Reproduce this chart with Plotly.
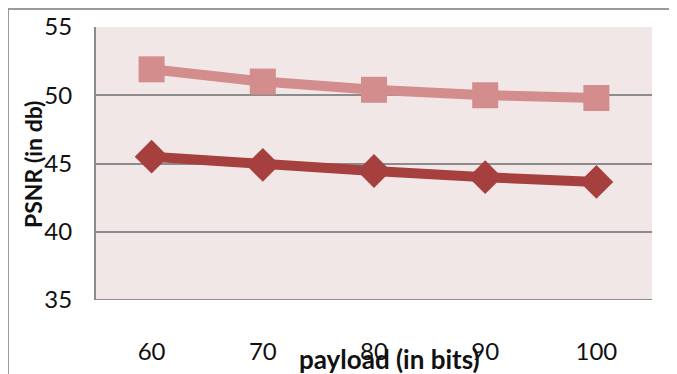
import plotly.graph_objects as go

categories = ["60", "70", "80", "90", "100"]
series_square = [51.9, 51.0, 50.4, 50.0, 49.8]
series_diamond = [45.5, 44.9, 44.45, 44.0, 43.65]
y_ticks = [35, 40, 45, 50, 55]

FONT = "Lato, Open Sans, sans-serif"

fig = go.Figure()
fig.add_trace(go.Scatter(
    x=categories, y=series_square, mode="lines+markers",
    line=dict(color="#D38D8D", width=10),
    marker=dict(symbol="square", size=26, color="#D38D8D"),
    showlegend=False))
fig.add_trace(go.Scatter(
    x=categories, y=series_diamond, mode="lines+markers",
    line=dict(color="#A5403F", width=10),
    marker=dict(symbol="diamond", size=26, color="#A5403F"),
    showlegend=False))

# page body has an 8px margin, so the figure is drawn 8px in from the corner
OFF = 8
W, H = 677 - OFF, 374 - OFF
L, T = 96 - OFF, 27 - OFF
pw, ph = 556, 273
R, B = W - L - pw, H - T - ph

fig.update_layout(
    width=W, height=H,
    margin=dict(l=L, r=R, t=T, b=B),
    paper_bgcolor="white",
    plot_bgcolor="#F2E7E7",
    font=dict(family=FONT, size=24, color="#111"),
    xaxis=dict(type="category", range=[-0.5, 4.5], showgrid=False,
               showline=False, ticks="outside", ticklen=30,
               tickcolor="rgba(0,0,0,0)", tickfont=dict(size=24),
               automargin=False),
    yaxis=dict(range=[35, 55], tickvals=y_ticks, showgrid=True,
               gridcolor="#8C8C8C", gridwidth=2, zeroline=False,
               showline=True, linecolor="#8C8C8C", linewidth=2,
               ticks="outside", ticklen=17, tickcolor="rgba(0,0,0,0)",
               tickfont=dict(size=24), automargin=False),
    shapes=[
        dict(type="rect", xref="paper", yref="paper",
             x0=(8 - 96) / pw, x1=(673 - 96) / pw,
             y0=-0.4, y1=1 + (27 - 9) / ph,
             line=dict(color="#9A9A9A", width=2), layer="below"),
        dict(type="line", xref="paper", yref="y", x0=0, x1=1, y0=35, y1=35,
             line=dict(color="#8C8C8C", width=2)),
    ],
    annotations=[
        dict(text="<b>PSNR (in db)</b>", xref="paper", yref="paper",
             x=(33 - 96) / pw, y=1 - (165 - 27) / ph, textangle=-90,
             showarrow=False, font=dict(size=23, family=FONT, color="#111"),
             xanchor="center", yanchor="middle"),
        dict(text="<b>payload (in bits)</b>", xref="paper", yref="paper",
             x=(389 - 96) / pw, y=1 - (359 - 27) / ph,
             showarrow=False, font=dict(size=26, family=FONT, color="#111"),
             xanchor="center", yanchor="middle"),
    ],
)

fig.write_html("out.html")
